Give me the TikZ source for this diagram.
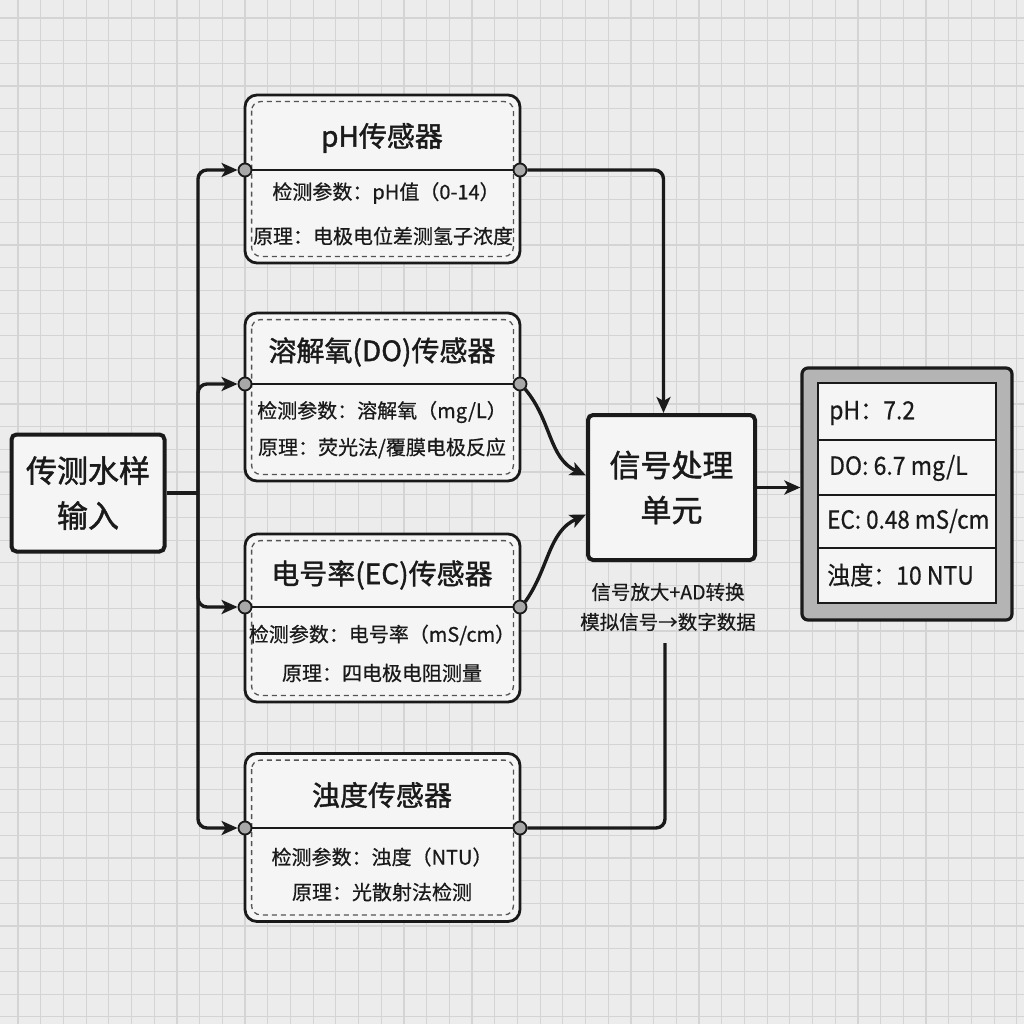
\documentclass[tikz,border=0pt]{standalone}
\usepackage{fontspec}
\setmainfont{Noto Sans CJK SC}[FakeBold=0.6]
\newfontfamily\heavy{Noto Sans CJK SC}[FakeBold=1.4]
\usetikzlibrary{arrows.meta,calc}
\definecolor{ink}{HTML}{1A1A1A}
\definecolor{paper}{HTML}{ECECEC}
\definecolor{gridc}{HTML}{D4D4D4}
\definecolor{boxfill}{HTML}{F5F5F5}
\definecolor{portc}{HTML}{A8A8A8}
\definecolor{framec}{HTML}{B4B4B4}
\begin{document}
\begin{tikzpicture}[x=1pt,y=-1pt,
  sensor/.style={draw=ink, line width=2.8pt, rounded corners=12pt, fill=boxfill, minimum width=275pt, minimum height=168pt, inner sep=0pt},
  dashin/.style={draw=ink!75, dash pattern=on 5pt off 4pt, line width=1.3pt, rounded corners=9pt},
  divider/.style={draw=ink, line width=2.2pt},
  port/.style={circle, draw=ink, line width=1.8pt, fill=portc, minimum size=13pt, inner sep=0pt},
  wire/.style={draw=ink, line width=3.4pt, rounded corners=9pt},
  arr/.style={-{Stealth[length=16pt,width=14pt,inset=4pt]}},
  title/.style={text=ink, font=\heavy\fontsize{28}{32}\selectfont, inner sep=0pt},
  body/.style={text=ink, font=\fontsize{20}{23}\selectfont, inner sep=0pt},
  bigbox/.style={draw=ink, line width=4pt, rounded corners=5pt, fill=boxfill, inner sep=0pt, align=center, text=ink, font=\heavy\fontsize{31}{45}\selectfont},
  note/.style={text=ink, font=\fontsize{19.5}{30}\selectfont, align=center, inner sep=0pt},
  rowtxt/.style={text=ink, font=\fontsize{25}{28}\selectfont, anchor=west, inner sep=0pt},
  rowline/.style={draw=ink, line width=2pt}
]
\useasboundingbox (0,0) rectangle (1024,1024);
\fill[paper] (0,0) rectangle (1024,1024);
\foreach \i in {0,...,44}{
  \pgfmathsetmacro\g{18+22.7*\i}
  \draw[gridc, line width=1.2pt] (\g,0) -- (\g,1024);
  \draw[gridc, line width=1.2pt] (0,\g) -- (1024,\g);
}

% input
\node[bigbox, minimum width=153pt, minimum height=117pt] (in) at (88,493) {传测水样\\输入};

% sensors
\node[sensor] (ph) at (382.5,179) {};
\node[sensor] (do) at (382.5,397) {};
\node[sensor] (ec) at (382.5,618) {};
\node[sensor] (tu) at (382.5,837.5) {};
\foreach \s in {ph,do,ec,tu}{
  \draw[dashin] ([shift={(8pt,-8pt)}]\s.north west) rectangle ([shift={(-8pt,8pt)}]\s.south east);
}
\draw[divider] (245,170) -- (520,170);
\draw[divider] (245,384) -- (520,384);
\draw[divider] (245,607) -- (520,607);
\draw[divider] (245,828) -- (520,828);

\node[title] (phT) at (382,138) {pH传感器};
\node[body] (ph1) at (386,193) {检测参数：pH值（0-14）};
\node[body] (ph2) at (383,236) {原理：电极电位差测氢子浓度};

\node[title] (doT) at (382,352) {溶解氧(DO)传感器};
\node[body] (do1) at (382,412) {检测参数：溶解氧（mg/L）};
\node[body] (do2) at (382,448) {原理：荧光法/覆膜电极反应};

\node[title] (ecT) at (382,575) {电号率(EC)传感器};
\node[body] (ec1) at (382,635) {检测参数：电号率（mS/cm）};
\node[body] (ec2) at (382,673) {原理：四电极电阻测量};

\node[title] (tuT) at (382,795) {浊度传感器};
\node[body] (tu1) at (382,857) {检测参数：浊度（NTU）};
\node[body] (tu2) at (382,892) {原理：光散射法检测};

\node[port] (phL) at (245,170) {};
\node[port] (phR) at (520,170) {};
\node[port] (doL) at (245,384) {};
\node[port] (doR) at (520,384) {};
\node[port] (ecL) at (245,607) {};
\node[port] (ecR) at (520,607) {};
\node[port] (tuL) at (245,828) {};
\node[port] (tuR) at (520,828) {};

% signal unit
\node[bigbox, minimum width=167pt, minimum height=145pt] (sig) at (671.5,487.5) {信号处理\\单元};
\node[note] (sigN) at (668,607) {信号放大+AD转换\\模拟信号→数字数据};

% display
\node[draw=ink, line width=3.2pt, rounded corners=6pt, fill=framec, minimum width=210pt, minimum height=252pt, inner sep=0pt] (disp) at (907,494) {};
\draw[draw=ink, line width=2.4pt, fill=boxfill] (818,383) rectangle (996,603);
\draw[rowline] (818,440) -- (996,440);
\draw[rowline] (818,495) -- (996,495);
\draw[rowline] (818,548) -- (996,548);
\node[rowtxt] (r1) at (829,413) {\scalebox{0.92}[1]{pH：7.2}};
\node[rowtxt] (r2) at (829,468) {\scalebox{0.92}[1]{DO: 6.7 mg/L}};
\node[rowtxt] (r3) at (827,521) {\scalebox{0.9}[1]{EC: 0.48 mS/cm}};
\node[rowtxt] (r4) at (827,575) {\scalebox{0.92}[1]{浊度：10 NTU}};

% connectors
\coordinate (trunk) at (198,493);
\draw[wire, rounded corners=0pt] (in.east) -- (trunk);
\draw[wire, arr] (trunk) |- (phL.west);
\draw[wire, arr] (trunk) |- (doL.west);
\draw[wire, arr] (trunk) |- (ecL.west);
\draw[wire, arr] (trunk) |- (tuL.west);

\draw[wire, arr] (phR.east) -| ([xshift=-8pt]sig.north);
\draw[wire, arr] (doR.south east) to[out=-50, in=155] ([yshift=12pt]sig.west);
\draw[wire, arr] (ecR.north east) to[out=55, in=-155] ([yshift=-27pt]sig.west);
\coordinate (tuEnd) at (665,643);
\draw[wire] (tuR.east) -| (tuEnd);
\draw[wire, arr] (sig.east) -- (sig.east -| disp.west);
\end{tikzpicture}
\end{document}
